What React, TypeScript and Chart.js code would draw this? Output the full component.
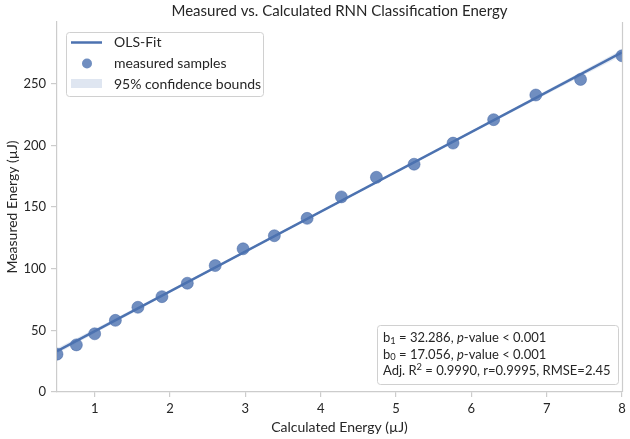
import React, { useEffect, useRef } from "react";
import { Chart, registerables } from "chart.js";

Chart.register(...registerables);

// ---- data ----
const sampleX = [0.5, 0.757, 1.0, 1.275, 1.574, 1.893, 2.23, 2.6, 2.97, 3.385, 3.82, 4.275, 4.74, 5.24, 5.757, 6.296, 6.856, 7.45, 8.0];
const sampleY = [30.7, 38.2, 47.2, 58.1, 68.7, 77.3, 88.2, 102.5, 116.1, 126.7, 140.8, 158.2, 174.1, 184.7, 201.8, 220.8, 240.8, 253.4, 272.6];
const slopeB1 = 32.286;
const interceptB0 = 17.056;
const fitX = [0.5, 8];
const bandX = [0.5, 2, 4.25, 6.5, 8];
const bandLower = [31.0, 80.4, 153.5, 225.7, 272.9];
const bandUpper = [35.4, 82.8, 155.0, 228.1, 277.8];
const xTicks = [1, 2, 3, 4, 5, 6, 7, 8];
const yTicks = [0, 50, 100, 150, 200, 250];
const legendLabels = ["OLS-Fit", "measured samples", "95% confidence bounds"];
const titleText = "Measured vs. Calculated RNN Classification Energy";
const xTitle = "Calculated Energy (\u00b5J)";
const yTitle = "Measured Energy (\u00b5J)";

const FONT = "Lato";
const BLUE = "#4c72b0";
const TEXT = "#262626";

function drawSegments(ctx: CanvasRenderingContext2D, x: number, y: number, size: number, segs: { t: string; s?: "sub" | "sup"; i?: boolean }[]) {
  let cx = x;
  for (const seg of segs) {
    const fs = seg.s ? size * 0.72 : size;
    ctx.font = `${seg.i ? "italic " : ""}${fs}px ${FONT}`;
    const dy = seg.s === "sub" ? size * 0.22 : seg.s === "sup" ? -size * 0.32 : 0;
    ctx.fillText(seg.t, cx, y + dy);
    cx += ctx.measureText(seg.t).width;
  }
}

const overlayPlugin = {
  id: "overlay",
  afterDatasetsDraw(chart: any) {
    const ctx: CanvasRenderingContext2D = chart.ctx;
    const area = chart.chartArea;
    ctx.save();
    // right spine
    ctx.strokeStyle = "#cccccc";
    ctx.lineWidth = 1.2;
    ctx.beginPath();
    ctx.moveTo(area.right + 0.5, area.top);
    ctx.lineTo(area.right + 0.5, area.bottom);
    ctx.stroke();

    // title
    ctx.fillStyle = TEXT;
    ctx.font = `15px ${FONT}`;
    ctx.textAlign = "center";
    ctx.textBaseline = "middle";
    ctx.fillText(titleText, (area.left + area.right) / 2, 11);

    // legend
    ctx.textAlign = "left";
    ctx.fillStyle = "rgba(255,255,255,0.8)";
    ctx.strokeStyle = "#d0d0d0";
    ctx.lineWidth = 1;
    ctx.beginPath();
    (ctx as any).roundRect(66.5, 32.5, 197, 64, 3);
    ctx.fill();
    ctx.stroke();
    ctx.strokeStyle = BLUE;
    ctx.lineWidth = 2.5;
    ctx.beginPath();
    ctx.moveTo(71, 42.5);
    ctx.lineTo(102, 42.5);
    ctx.stroke();
    ctx.fillStyle = "rgba(76,114,176,0.8)";
    ctx.beginPath();
    ctx.arc(87, 63.5, 5, 0, Math.PI * 2);
    ctx.fill();
    ctx.fillStyle = "rgba(76,114,176,0.18)";
    ctx.fillRect(71, 79, 31, 9);
    ctx.fillStyle = TEXT;
    ctx.font = `14px ${FONT}`;
    ctx.textBaseline = "middle";
    legendLabels.forEach((l, i) => ctx.fillText(l, 114, 42.5 + i * 21));

    // stats box
    ctx.fillStyle = "rgba(255,255,255,0.8)";
    ctx.strokeStyle = "#d0d0d0";
    ctx.lineWidth = 1;
    ctx.beginPath();
    (ctx as any).roundRect(377.5, 325.5, 241, 59, 3);
    ctx.fill();
    ctx.stroke();
    ctx.fillStyle = TEXT;
    const fs = 13;
    drawSegments(ctx, 383, 338, fs, [{ t: "b" }, { t: "1", s: "sub" }, { t: ` = ${slopeB1.toFixed(3)}, ` }, { t: "p", i: true }, { t: "-value < 0.001" }]);
    drawSegments(ctx, 383, 354.5, fs, [{ t: "b" }, { t: "0", s: "sub" }, { t: ` = ${interceptB0.toFixed(3)}, ` }, { t: "p", i: true }, { t: "-value < 0.001" }]);
    drawSegments(ctx, 383, 371, fs, [{ t: "Adj. R" }, { t: "2", s: "sup" }, { t: " = 0.9990, r=0.9995, RMSE=2.45" }]);
    ctx.restore();
  },
};

export default function App() {
  const ref = useRef<HTMLCanvasElement | null>(null);
  useEffect(() => {
    if (!ref.current) return;
    const fitData = fitX.map((x) => ({ x, y: interceptB0 + slopeB1 * x }));
    const chart = new Chart(ref.current, {
      type: "scatter",
      data: {
        datasets: [
          {
            type: "line",
            label: legendLabels[0],
            data: fitData,
            borderColor: BLUE,
            borderWidth: 2.5,
            pointRadius: 0,
            fill: false,
            order: 0,
            clip: 0,
          } as any,
          {
            type: "scatter",
            label: legendLabels[1],
            data: sampleX.map((x, i) => ({ x, y: sampleY[i] })),
            backgroundColor: "rgba(76,114,176,0.8)",
            borderColor: "rgba(60,95,160,0.6)",
            borderWidth: 0.8,
            pointRadius: 6,
            order: 1,
            clip: 0,
          } as any,
          {
            type: "line",
            label: "upper",
            data: bandX.map((x, i) => ({ x, y: bandUpper[i] })),
            borderWidth: 0,
            borderColor: "rgba(0,0,0,0)",
            pointRadius: 0,
            backgroundColor: "rgba(76,114,176,0.15)",
            fill: "+1",
            cubicInterpolationMode: "monotone",
            order: 2,
            clip: 0,
          } as any,
          {
            type: "line",
            label: "lower",
            data: bandX.map((x, i) => ({ x, y: bandLower[i] })),
            borderWidth: 0,
            borderColor: "rgba(0,0,0,0)",
            pointRadius: 0,
            fill: false,
            cubicInterpolationMode: "monotone",
            order: 3,
            clip: 0,
          } as any,
        ],
      },
      options: {
        animation: false,
        responsive: false,
        devicePixelRatio: 1,
        layout: { padding: { top: 22, right: 8, left: 0, bottom: 0 } },
        plugins: {
          legend: { display: false },
          tooltip: { enabled: false },
          title: { display: false },
        },
        font: { family: FONT } as any,
        scales: {
          x: {
            type: "linear",
            min: 0.5,
            max: 8,
            afterBuildTicks: (s: any) => {
              s.ticks = xTicks.map((v) => ({ value: v }));
            },
            afterFit: (s: any) => {
              s.height = 47;
            },
            grid: { display: true, drawOnChartArea: false, tickLength: 5, color: "#cccccc", lineWidth: 1.2 },
            border: { display: true, color: "#cccccc", width: 1.2 },
            ticks: { color: TEXT, font: { family: FONT, size: 13 }, padding: 4, maxRotation: 0 },
            title: { display: true, text: xTitle, color: TEXT, font: { family: FONT, size: 14 }, padding: { top: 0, bottom: 3 } },
          },
          y: {
            type: "linear",
            min: 0,
            max: 300,
            afterBuildTicks: (s: any) => {
              s.ticks = yTicks.map((v) => ({ value: v }));
            },
            afterFit: (s: any) => {
              s.width = 57;
            },
            grid: { display: true, drawOnChartArea: false, tickLength: 6, color: "#cccccc", lineWidth: 1.2 },
            border: { display: true, color: "#cccccc", width: 1.2 },
            ticks: { color: TEXT, font: { family: FONT, size: 13 }, padding: 5 },
            title: { display: true, text: yTitle, color: TEXT, font: { family: FONT, size: 14 }, padding: { top: 4, bottom: 0 } },
          },
        },
      } as any,
      plugins: [overlayPlugin],
    });
    return () => chart.destroy();
  }, []);
  return (
    <div style={{ position: "absolute", left: 0, top: 0, width: 630, height: 439, background: "#fff" }}>
      <canvas ref={ref} width={630} height={439} style={{ display: "block" }} />
    </div>
  );
}
